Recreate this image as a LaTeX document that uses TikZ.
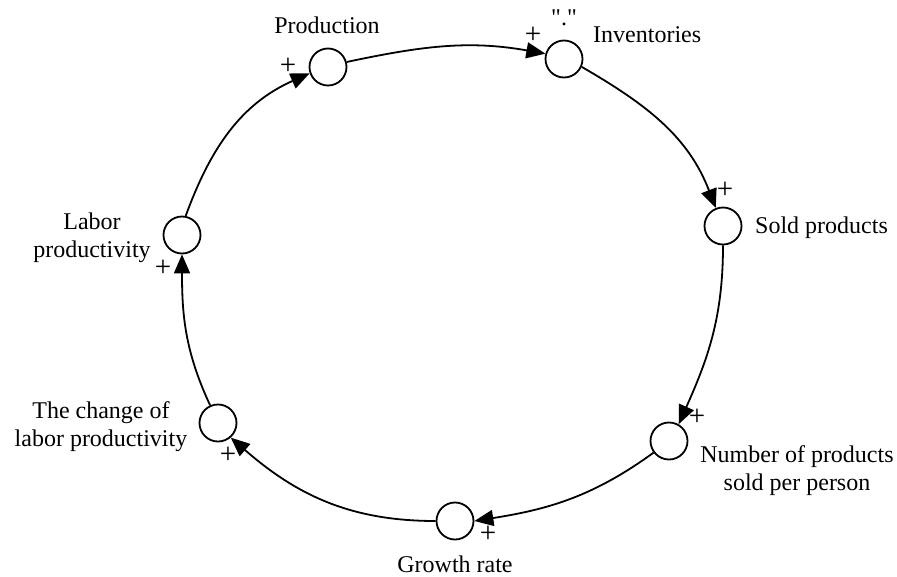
\documentclass[tikz,border=0pt]{standalone}
\usepackage{fontspec}
\setmainfont{Liberation Serif}
\usetikzlibrary{arrows.meta}
\begin{document}
\begin{tikzpicture}[x=1pt,y=-1pt,
  var/.style={circle, draw, line width=1.8pt, minimum size=37pt, inner sep=0pt},
  lbl/.style={font=\fontsize{24}{28}\selectfont, inner sep=0pt, align=center},
  sgn/.style={font=\fontsize{29}{30}\selectfont, inner sep=0pt},
  link/.style={line width=1.8pt, -{Triangle[length=19pt,width=16pt]}}]
\useasboundingbox (0,0) rectangle (897,576);

% variables
\node[var] (prod) at (328,67) {};
\node[var] (inv)  at (564,59) {};
\node[var] (sold) at (723,226) {};
\node[var] (num)  at (669,441) {};
\node[var] (gr)   at (455,521) {};
\node[var] (chg)  at (218,423) {};
\node[var] (lab)  at (182,235) {};

% labels
\node[lbl, anchor=base] (tprod) at (327,33) {Production};
\node[lbl, anchor=base west] (tinv) at (593,42) {Inventories};
\node[lbl, anchor=base] (tq) at (564,25) {\textquotedbl.\textquotedbl};
\node[lbl, anchor=base west] (tsold) at (755,233) {Sold products};
\node[lbl] (tnum) at (797,471) {Number of products\\sold per person};
\node[lbl, anchor=base] (tgr) at (455,572) {Growth rate};
\node[lbl] (tchg) at (101,427) {The change of\\labor productivity};
\node[lbl] (tlab) at (92,238) {Labor\\productivity};

% signs
\node[sgn] (s1) at (288,66) {+};
\node[sgn] (s2) at (533,35) {+};
\node[sgn] (s3) at (725,190) {+};
\node[sgn] (s4) at (697,417) {+};
\node[sgn] (s5) at (488,534) {+};
\node[sgn] (s6) at (228,455) {+};
\node[sgn] (s7) at (163,268) {+};

% links
\draw[link] (prod.15) to[out=12, in=170] (inv.164);
\draw[link] (inv.-24) to[out=-30, in=111] (sold.112);
\draw[link] (sold.-90) to[out=-90, in=66] (num.60);
\draw[link] (num.217) to[out=216, in=9] (gr.0);
\draw[link] (gr.180) to[out=180, in=-41] (chg.-49);
\draw[link] (chg.114) to[out=115, in=-90] (lab.-90);
\draw[link] (lab.79) to[out=70, in=204] (prod.199);
\end{tikzpicture}
\end{document}
